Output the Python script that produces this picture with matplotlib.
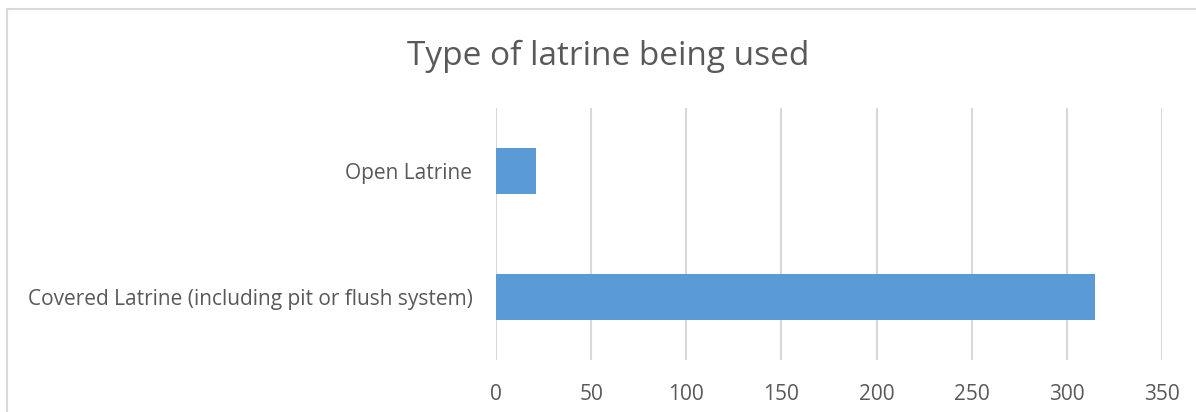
import matplotlib
matplotlib.use("Agg")
import matplotlib.pyplot as plt
from matplotlib.patches import Rectangle

categories = ["Covered Latrine (including pit or flush system)", "Open Latrine"]
counts = [315, 21]
x_ticks = [0, 50, 100, 150, 200, 250, 300, 350]
title = "Type of latrine being used"

plt.rcParams["font.family"] = ["Open Sans", "DejaVu Sans"]
text_color = "#595959"
bar_color = "#5B9BD5"
grid_color = "#D9D9D9"

W, H = 1196, 412
fig = plt.figure(figsize=(W / 100, H / 100), dpi=100)

# chart area border (left and top edges visible)
fig.patches.append(Rectangle((7 / W, -0.1), 1.2, 1 - 9 / H + 0.1,
                             transform=fig.transFigure, fill=False,
                             edgecolor=grid_color, linewidth=1.5))

ax = fig.add_axes([496 / W, 1 - 360 / H, (1162 - 496) / W, (360 - 108) / H])
y = range(len(categories))
ax.barh(y, counts, height=0.36, color=bar_color, zorder=3)
ax.set_ylim(-0.5, len(categories) - 0.5)
ax.set_xlim(0, 350)
ax.set_xticks(x_ticks)
ax.set_xticklabels([str(t) for t in x_ticks])
ax.set_yticks(list(y))
ax.set_yticklabels(categories)
ax.grid(axis="x", color=grid_color, linewidth=1.5, zorder=0)
for s in ax.spines.values():
    s.set_visible(False)
ax.tick_params(axis="both", length=0, colors=text_color, labelsize=15)
ax.tick_params(axis="x", pad=17)
ax.tick_params(axis="y", pad=17)

fig.text(608 / W, 1 - 56 / H, title, ha="center", va="center",
         fontsize=24, color=text_color)

fig.savefig("out.png", dpi=100)
